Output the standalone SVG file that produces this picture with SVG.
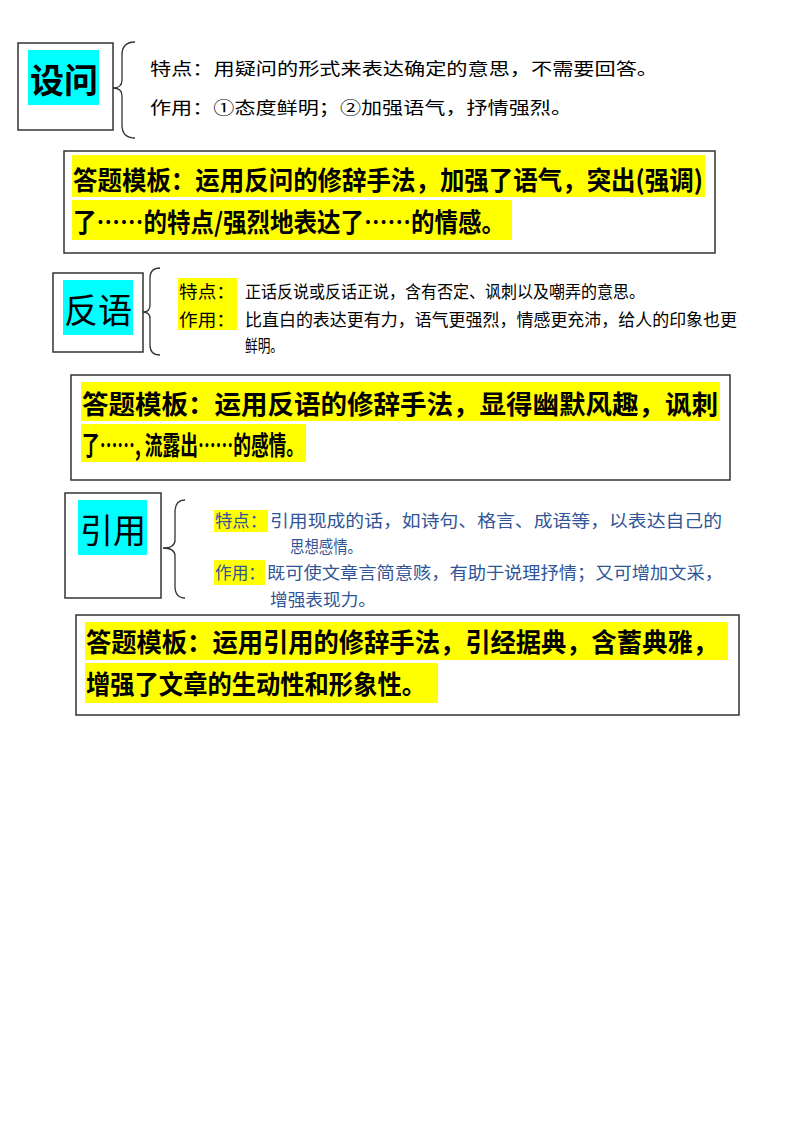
<svg xmlns="http://www.w3.org/2000/svg" width="800" height="1132" viewBox="0 0 800 1132">
<style>
.box{fill:#fff;stroke:#333;stroke-width:1.5}
.cy{fill:#00ffff}
.yl{fill:#ffff00}
.br{fill:none;stroke:#333;stroke-width:1.3}
text{font-family:"Noto Sans CJK SC","Liberation Sans",sans-serif;fill:#000}
.t{font-size:34px}
.s{font-size:17px}
.a{font-size:26px;font-weight:bold}
.bl{fill:#2f5597}
</style>
<rect width="800" height="1132" fill="#fff"/>
<g id="shewen">
<rect class="box" x="18" y="43" width="95" height="87"/>
<rect class="cy" x="28" y="50" width="71" height="55"/>
<text class="t" x="30" y="93" font-weight="bold" textLength="68" lengthAdjust="spacingAndGlyphs">设问</text>
</g>
<g id="connectors">
<path class="br" d="M135,42 Q122,42 122,55 L122,80 Q122,88 113,88 Q122,88 122,96 L122,125 Q122,138 135,138"/>
<path class="br" d="M160,268 Q150,268 150,278 L150,305 Q150,312 143,312 Q150,312 150,319 L150,345 Q150,355 160,355"/>
<path class="br" d="M185,500 Q175,500 175,512 L175,540 Q175,548 163,548 Q175,548 175,556 L175,586 Q175,598 185,598"/>
</g>
<g id="shewen-text">
<text class="s" x="150" y="75" textLength="508" lengthAdjust="spacingAndGlyphs">特点：用疑问的形式来表达确定的意思，不需要回答。</text>
<text class="s" x="150" y="114" textLength="422" lengthAdjust="spacingAndGlyphs">作用：①态度鲜明；②加强语气，抒情强烈。</text>
</g>
<g id="shewen-answer">
<rect class="box" x="64" y="151" width="651" height="102"/>
<rect class="yl" x="72" y="155" width="633" height="42"/>
<rect class="yl" x="72" y="200" width="440" height="40"/>
<text class="a" x="73" y="190" textLength="630" lengthAdjust="spacingAndGlyphs">答题模板：运用反问的修辞手法，加强了语气，突出(强调)</text>
<text class="a" x="73" y="232" textLength="432" lengthAdjust="spacingAndGlyphs">了……的特点/强烈地表达了……的情感。</text>
</g>
<g id="fanyu">
<rect class="box" x="53" y="273" width="90" height="79"/>
<rect class="cy" x="63" y="280" width="70" height="55"/>
<text class="t" x="64" y="323" textLength="68" lengthAdjust="spacingAndGlyphs">反语</text>
</g>
<g id="fanyu-text">
<rect class="yl" x="178" y="278" width="59" height="52"/>
<text class="s" x="179" y="298" textLength="56" lengthAdjust="spacingAndGlyphs">特点：</text>
<text class="s" x="179" y="326" textLength="56" lengthAdjust="spacingAndGlyphs">作用：</text>
<text class="s" x="245" y="298" textLength="400" lengthAdjust="spacingAndGlyphs">正话反说或反话正说，含有否定、讽刺以及嘲弄的意思。</text>
<text class="s" x="245" y="326" textLength="492" lengthAdjust="spacingAndGlyphs">比直白的表达更有力，语气更强烈，情感更充沛，给人的印象也更</text>
<text class="s" x="245" y="352" textLength="38" lengthAdjust="spacingAndGlyphs">鲜明。</text>
</g>
<g id="fanyu-answer">
<rect class="box" x="71" y="375" width="659" height="105"/>
<rect class="yl" x="81" y="382" width="639" height="39"/>
<rect class="yl" x="81" y="424" width="225" height="38"/>
<text class="a" x="82" y="414" textLength="636" lengthAdjust="spacingAndGlyphs">答题模板：运用反语的修辞手法，显得幽默风趣，讽刺</text>
<text class="a" x="82" y="455" textLength="222" lengthAdjust="spacingAndGlyphs">了……, 流露出……的感情。</text>
</g>
<g id="yinyong">
<rect class="box" x="65" y="493" width="96" height="105"/>
<rect class="cy" x="78" y="500" width="69" height="55"/>
<text class="t" x="80" y="543" textLength="66" lengthAdjust="spacingAndGlyphs">引用</text>
</g>
<g id="yinyong-text">
<rect class="yl" x="214" y="510" width="54" height="22"/>
<rect class="yl" x="214" y="560" width="51" height="25"/>
<text class="s bl" x="215" y="527" textLength="52" lengthAdjust="spacingAndGlyphs">特点：</text>
<text class="s bl" x="270" y="527" textLength="452" lengthAdjust="spacingAndGlyphs">引用现成的话，如诗句、格言、成语等，以表达自己的</text>
<text class="s bl" x="290" y="553" textLength="72" lengthAdjust="spacingAndGlyphs">思想感情。</text>
<text class="s bl" x="215" y="579" textLength="50" lengthAdjust="spacingAndGlyphs">作用：</text>
<text class="s bl" x="267" y="579" textLength="456" lengthAdjust="spacingAndGlyphs">既可使文章言简意赅，有助于说理抒情；又可增加文采，</text>
<text class="s bl" x="270" y="606" textLength="106" lengthAdjust="spacingAndGlyphs">增强表现力。</text>
</g>
<g id="yinyong-answer">
<rect class="box" x="76" y="615" width="663" height="100"/>
<rect class="yl" x="85" y="622" width="643" height="38"/>
<rect class="yl" x="85" y="663" width="353" height="40"/>
<text class="a" x="86" y="652" textLength="632" lengthAdjust="spacingAndGlyphs">答题模板：运用引用的修辞手法，引经据典，含蓄典雅，</text>
<text class="a" x="86" y="694" textLength="340" lengthAdjust="spacingAndGlyphs">增强了文章的生动性和形象性。</text>
</g>
</svg>
